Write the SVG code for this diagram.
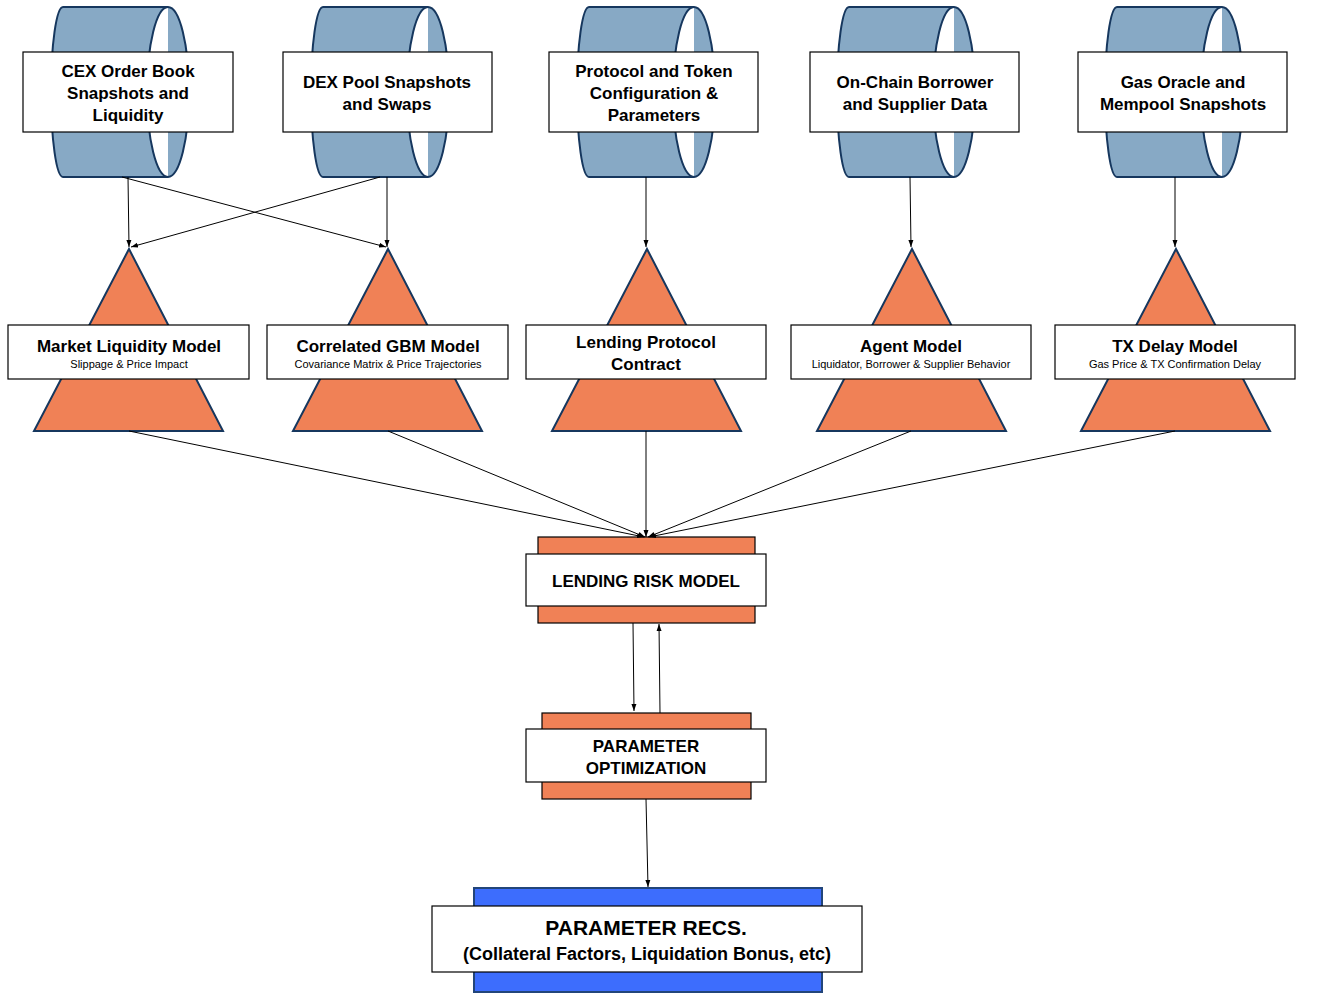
<svg xmlns="http://www.w3.org/2000/svg" width="1323" height="1002" viewBox="0 0 1323 1002">
<defs>
<marker id="a" markerWidth="8" markerHeight="8" refX="7" refY="4" orient="auto" markerUnits="userSpaceOnUse"><path d="M0,1.5 L7,4 L0,6.5 Z" fill="#000"/></marker>
<path id="cyl" d="M12,0 L117,0 A21,85 0 0 1 117,170 L12,170 A12,85 0 0 1 12,0 Z M117,0 A21,85 0 0 0 117,170"/>
<path id="tri" d="M95,0 L189,182 L0,182 Z"/>
</defs>
<style>
.c{fill:#87a9c5;stroke:#16375e;stroke-width:2}
.t{fill:#f08156;stroke:#16375e;stroke-width:2}
.w{fill:#fff;stroke:#000;stroke-width:1.2}
.o{fill:#f08156;stroke:#000;stroke-width:1.2}
.b{fill:#3d6dfd;stroke:#22457a;stroke-width:2}
text{font-family:"Liberation Sans",Arial,sans-serif;font-weight:bold;text-anchor:middle;fill:#000}
.h{font-size:17px}
.s{font-size:11px;font-weight:normal}
.l{stroke:#000;stroke-width:1;fill:none;marker-end:url(#a)}
</style>
<rect width="1323" height="1002" fill="#fff"/>
<g id="src1"><use href="#cyl" x="51" y="7" class="c"/><rect class="w" x="23" y="52" width="210" height="80"/><text class="h" x="128" y="77">CEX Order Book</text><text class="h" x="128" y="99">Snapshots and</text><text class="h" x="128" y="121">Liquidity</text></g>
<g id="src2"><use href="#cyl" x="311" y="7" class="c"/><rect class="w" x="283" y="52" width="209" height="80"/><text class="h" x="387" y="88">DEX Pool Snapshots</text><text class="h" x="387" y="110">and Swaps</text></g>
<g id="src3"><use href="#cyl" x="577" y="7" class="c"/><rect class="w" x="549" y="52" width="209" height="80"/><text class="h" x="654" y="77">Protocol and Token</text><text class="h" x="654" y="99">Configuration &amp;</text><text class="h" x="654" y="121">Parameters</text></g>
<g id="src4"><use href="#cyl" x="837" y="7" class="c"/><rect class="w" x="810" y="52" width="209" height="80"/><text class="h" x="915" y="88">On-Chain Borrower</text><text class="h" x="915" y="110">and Supplier Data</text></g>
<g id="src5"><use href="#cyl" x="1105" y="7" class="c"/><rect class="w" x="1078" y="52" width="209" height="80"/><text class="h" x="1183" y="88">Gas Oracle and</text><text class="h" x="1183" y="110">Mempool Snapshots</text></g>
<g id="m1"><use href="#tri" x="34" y="249" class="t"/><rect class="w" x="8" y="325" width="241" height="54"/><text class="h" x="129" y="352">Market Liquidity Model</text><text class="s" x="129" y="368">Slippage &amp; Price Impact</text></g>
<g id="m2"><use href="#tri" x="293" y="249" class="t"/><rect class="w" x="267" y="325" width="241" height="54"/><text class="h" x="388" y="352">Correlated GBM Model</text><text class="s" x="388" y="368">Covariance Matrix &amp; Price Trajectories</text></g>
<g id="m3"><use href="#tri" x="552" y="249" class="t"/><rect class="w" x="526" y="325" width="240" height="54"/><text class="h" x="646" y="348">Lending Protocol</text><text class="h" x="646" y="370">Contract</text></g>
<g id="m4"><use href="#tri" x="817" y="249" class="t"/><rect class="w" x="791" y="325" width="240" height="54"/><text class="h" x="911" y="352">Agent Model</text><text class="s" x="911" y="368">Liquidator, Borrower &amp; Supplier Behavior</text></g>
<g id="m5"><use href="#tri" x="1081" y="249" class="t"/><rect class="w" x="1055" y="325" width="240" height="54"/><text class="h" x="1175" y="352">TX Delay Model</text><text class="s" x="1175" y="368">Gas Price &amp; TX Confirmation Delay</text></g>
<g id="risk"><rect class="o" x="538" y="537" width="217" height="86"/><rect class="w" x="526" y="554" width="240" height="52"/><text class="h" x="646" y="587">LENDING RISK MODEL</text></g>
<g id="opt"><rect class="o" x="542" y="713" width="209" height="86"/><rect class="w" x="526" y="729" width="240" height="53"/><text class="h" x="646" y="752">PARAMETER</text><text class="h" x="646" y="774">OPTIMIZATION</text></g>
<g id="recs"><rect class="b" x="474" y="888" width="348" height="104"/><rect class="w" x="432" y="906" width="430" height="66"/><text x="646" y="935" style="font-size:21px">PARAMETER RECS.</text><text x="647" y="960" style="font-size:18px">(Collateral Factors, Liquidation Bonus, etc)</text></g>
<g id="connectors">
<path class="l" d="M128,177 L129,247"/>
<path class="l" d="M122,177 L386,247"/>
<path class="l" d="M387,177 L387,247"/>
<path class="l" d="M380,177 L131,247"/>
<path class="l" d="M646,177 L646,247"/>
<path class="l" d="M910,177 L911,247"/>
<path class="l" d="M1175,177 L1175,247"/>
<path class="l" d="M129,431 L644,537"/>
<path class="l" d="M388,431 L645,537"/>
<path class="l" d="M646,431 L646,537"/>
<path class="l" d="M911,431 L648,537"/>
<path class="l" d="M1175,431 L649,537"/>
<path class="l" d="M633,623 L634,711"/>
<path class="l" d="M660,713 L659,624"/>
<path class="l" d="M646,799 L648,887"/>
</g>
</svg>
